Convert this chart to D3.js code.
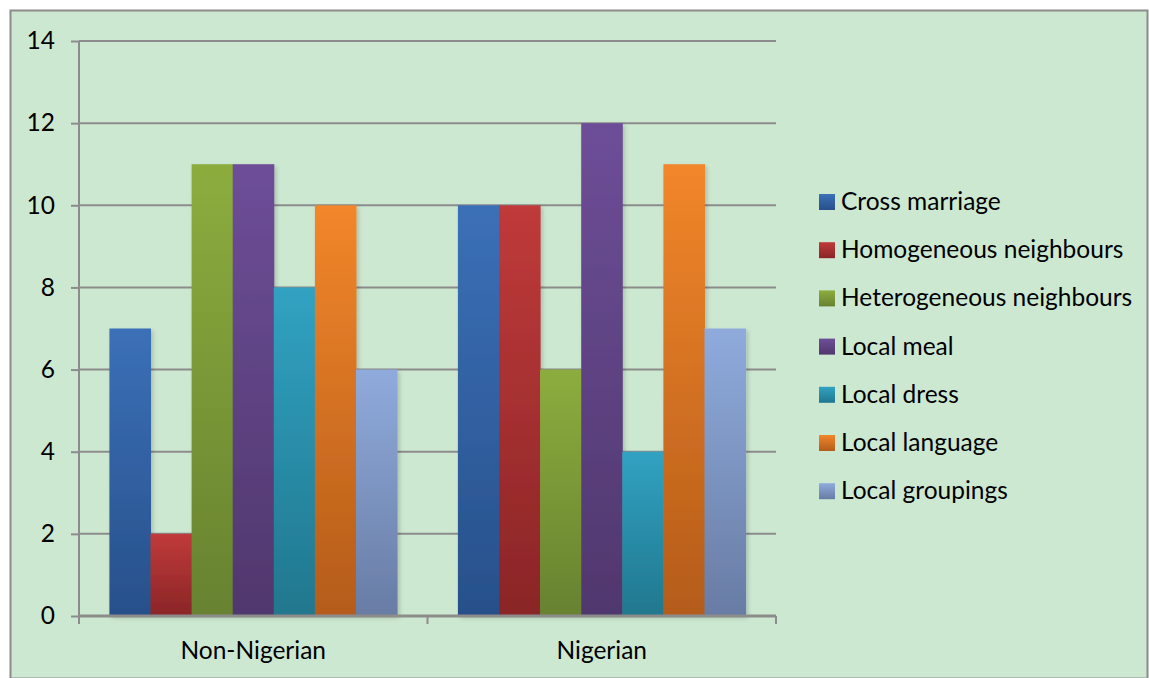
<!DOCTYPE html>
<html>
<head>
<meta charset="utf-8">
<script src="https://cdn.jsdelivr.net/npm/d3@7"></script>
<style>
  body { margin: 0; background: #fff; }
  text { font-family: Lato, "Open Sans", sans-serif; fill: #000; }
</style>
</head>
<body>
<div class="canvas"></div>
<script>
const groups = ['Non-Nigerian', 'Nigerian'];
const seriesNames = [
  'Cross marriage', 'Homogeneous neighbours', 'Heterogeneous neighbours',
  'Local meal', 'Local dress', 'Local language', 'Local groupings'
];
const nonNigerian = [7, 2, 11, 11, 8, 10, 6];
const nigerian = [10, 10, 6, 12, 4, 11, 7];
const yTicks = [0, 2, 4, 6, 8, 10, 12, 14];
// top / bottom colour of each bar gradient
const topColors = ['#3b70b8', '#c03a3a', '#8cad3e', '#6d4e98', '#31a2c2', '#f2862a', '#8fabdc'];
const bottomColors = ['#27508a', '#8a2527', '#678230', '#50376d', '#21778e', '#b45c1a', '#687ca4'];

const W = 1149, H = 678;
const fontSize = '24.5px';

const svg = d3.select('.canvas')
  .append('svg')
  .attr('width', W)
  .attr('height', H);

// outer frame
svg.append('rect')
  .attr('x', 10.5).attr('y', 10.5)
  .attr('width', W - 12).attr('height', H - 10)
  .attr('fill', '#cde8d1')
  .attr('stroke', '#8c8c8c')
  .attr('stroke-width', 2);

const defs = svg.append('defs');
seriesNames.forEach((name, i) => {
  const g = defs.append('linearGradient')
    .attr('id', 'grad' + i)
    .attr('x1', 0).attr('y1', 0).attr('x2', 0).attr('y2', 1);
  g.append('stop').attr('offset', '0%').attr('stop-color', topColors[i]);
  g.append('stop').attr('offset', '100%').attr('stop-color', bottomColors[i]);
});
const shadow = defs.append('filter').attr('id', 'shadow')
  .attr('x', '-20%').attr('y', '-5%').attr('width', '140%').attr('height', '115%');
shadow.append('feDropShadow')
  .attr('dx', 2).attr('dy', 2).attr('stdDeviation', 2)
  .attr('flood-color', '#000').attr('flood-opacity', 0.18);

const margin = { left: 79, top: 41, right: 373, bottom: 62 };
const plotW = W - margin.left - margin.right;   // 697
const plotH = H - margin.top - margin.bottom;   // 575

const graph = svg.append('g')
  .attr('transform', `translate(${margin.left}, ${margin.top})`);

const y = d3.scaleLinear().domain([0, 14]).range([plotH, 0]);
const x = d3.scaleBand().domain(groups).range([0, plotW]);
const xInner = d3.scaleBand().domain(seriesNames)
  .range([0, x.bandwidth()])
  .paddingOuter(0.74);

// gridlines
graph.append('g')
  .selectAll('line')
  .data(yTicks.filter(d => d > 0))
  .join('line')
  .attr('x1', 0).attr('x2', plotW)
  .attr('y1', d => y(d)).attr('y2', d => y(d))
  .attr('stroke', '#8c8c8c')
  .attr('stroke-width', 2);

// bars
const data = [nonNigerian, nigerian];
groups.forEach((grp, gi) => {
  graph.append('g')
    .attr('transform', `translate(${x(grp)}, 0)`)
    .attr('filter', 'url(#shadow)')
    .selectAll('rect')
    .data(data[gi])
    .join('rect')
    .attr('x', (d, i) => xInner(seriesNames[i]))
    .attr('width', xInner.bandwidth() + 0.5)
    .attr('y', d => y(d))
    .attr('height', d => plotH - y(d))
    .attr('fill', (d, i) => `url(#grad${i})`);
});

// y axis
const yAxis = d3.axisLeft(y).tickValues(yTicks).tickSize(8).tickPadding(16);
const yAxisGroup = graph.append('g').call(yAxis);
yAxisGroup.select('.domain').remove();
yAxisGroup.selectAll('line').attr('stroke', '#8c8c8c').attr('stroke-width', 2);
yAxisGroup.selectAll('text')
  .style('font-size', fontSize)
  .style('font-family', 'Lato, "Open Sans", sans-serif')
  .attr('fill', '#000');
graph.append('line')
  .attr('x1', 0).attr('x2', 0)
  .attr('y1', 0).attr('y2', plotH + 8)
  .attr('stroke', '#8c8c8c').attr('stroke-width', 2);

// x axis
const xAxisGroup = graph.append('g').attr('transform', `translate(0, ${plotH})`);
xAxisGroup.append('line')
  .attr('x1', 0).attr('x2', plotW)
  .attr('stroke', '#8c8c8c').attr('stroke-width', 3);
xAxisGroup.selectAll('line.tick')
  .data([0, x('Nigerian'), plotW])
  .join('line')
  .attr('class', 'tick')
  .attr('x1', d => d).attr('x2', d => d)
  .attr('y1', 0).attr('y2', 8)
  .attr('stroke', '#8c8c8c').attr('stroke-width', 2);
xAxisGroup.selectAll('text')
  .data(groups)
  .join('text')
  .attr('x', d => x(d) + x.bandwidth() / 2)
  .attr('y', 43)
  .attr('text-anchor', 'middle')
  .style('font-size', fontSize)
  .text(d => d);

// legend
const legend = svg.append('g').attr('transform', 'translate(819, 202)');
const rows = legend.selectAll('g')
  .data(seriesNames)
  .join('g')
  .attr('transform', (d, i) => `translate(0, ${i * 48.2})`);
rows.append('rect')
  .attr('x', 0).attr('y', -8)
  .attr('width', 16).attr('height', 16)
  .attr('fill', (d, i) => `url(#grad${i})`);
rows.append('text')
  .attr('x', 22).attr('y', 8)
  .style('font-size', fontSize)
  .text(d => d);
</script>
</body>
</html>
